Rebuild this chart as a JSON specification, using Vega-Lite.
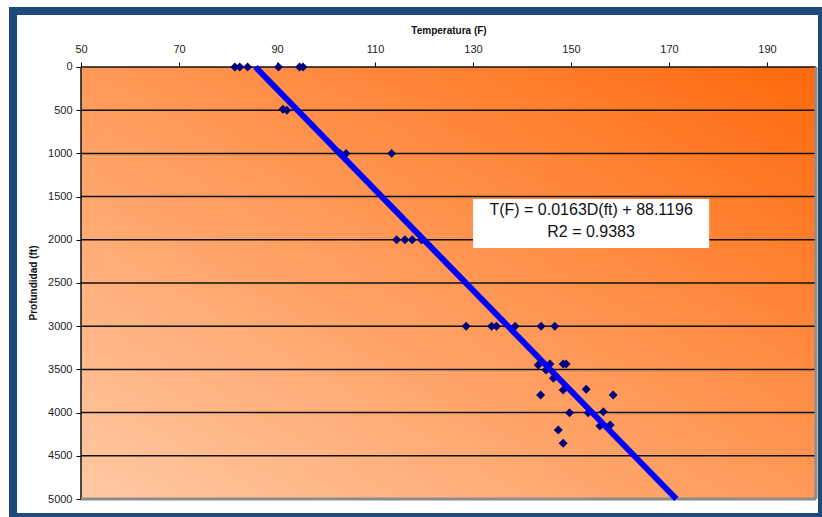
{
  "$schema": "https://vega.github.io/schema/vega-lite/v6.json",
  "width": 809,
  "height": 506,
  "autosize": {"type": "none"},
  "padding": {"left": 13, "top": 11, "right": 0, "bottom": 0},
  "background": "white",
  "config": {
    "view": {"fill": "white", "stroke": "#1F4A7C", "strokeWidth": 8},
    "font": "Liberation Sans",
    "axis": {"grid": false, "domain": false, "labelFlush": false, "labelOverlap": false, "tickColor": "#000", "tickWidth": 1, "tickSize": 5, "labelFont": "Liberation Sans", "labelFontSize": 11, "labelColor": "#222", "titleFont": "Liberation Sans", "titleFontSize": 10, "titleFontWeight": "bold", "titleColor": "#111"}
  },
  "datasets": {
    "pts": [
      {"T": 81.4, "D": 0}, {"T": 82.4, "D": 0}, {"T": 84.0, "D": 0}, {"T": 90.3, "D": 0}, {"T": 94.6, "D": 0}, {"T": 95.3, "D": 0},
      {"T": 91.2, "D": 490}, {"T": 92.0, "D": 500},
      {"T": 102.9, "D": 1000}, {"T": 104.1, "D": 1000}, {"T": 113.4, "D": 1000},
      {"T": 114.4, "D": 2000}, {"T": 116.1, "D": 2000}, {"T": 117.6, "D": 2000}, {"T": 119.5, "D": 2000},
      {"T": 128.6, "D": 3000}, {"T": 133.8, "D": 3000}, {"T": 134.8, "D": 3000}, {"T": 138.6, "D": 3000}, {"T": 143.9, "D": 3000}, {"T": 146.7, "D": 3000},
      {"T": 143.3, "D": 3449}, {"T": 144.9, "D": 3507}, {"T": 145.7, "D": 3437}, {"T": 146.4, "D": 3603}, {"T": 148.4, "D": 3437}, {"T": 149.0, "D": 3437},
      {"T": 143.8, "D": 3796}, {"T": 148.4, "D": 3738}, {"T": 153.1, "D": 3730}, {"T": 158.6, "D": 3796},
      {"T": 149.7, "D": 4001}, {"T": 153.5, "D": 4001}, {"T": 156.6, "D": 3990}, {"T": 155.9, "D": 4155}, {"T": 158.0, "D": 4144},
      {"T": 147.4, "D": 4201}, {"T": 148.4, "D": 4355}
    ],
    "fit": [{"T": 85.6, "D": 0}, {"T": 171.5, "D": 5000}],
    "grid": [{"D": 0}, {"D": 500}, {"D": 1000}, {"D": 1500}, {"D": 2000}, {"D": 2500}, {"D": 3000}, {"D": 3500}, {"D": 4000}, {"D": 4500}],
    "one": [{"k": 1}]
  },
  "layer": [
    {
      "data": {"name": "one"},
      "mark": {"type": "rect", "fill": {"gradient": "linear", "x1": 0, "y1": 1, "x2": 1, "y2": 0, "stops": [{"offset": 0, "color": "#FFC9A4"}, {"offset": 1, "color": "#FF690C"}]}},
      "encoding": {
        "x": {"datum": 50, "type": "quantitative", "scale": {"domain": [36.122, 201.224], "nice": false, "zero": false}},
        "x2": {"datum": 200},
        "y": {"datum": 0, "type": "quantitative", "scale": {"domain": [-648.1, 5208.3], "nice": false, "zero": false, "reverse": true}},
        "y2": {"datum": 5000}
      }
    },
    {
      "data": {"name": "grid"},
      "mark": {"type": "rule", "color": "#111", "strokeWidth": 1.5},
      "encoding": {
        "x": {"datum": 50, "type": "quantitative", "scale": {"domain": [36.122, 201.224], "nice": false, "zero": false}},
        "x2": {"datum": 200},
        "y": {"field": "D", "type": "quantitative", "scale": {"domain": [-648.1, 5208.3], "nice": false, "zero": false, "reverse": true}}
      }
    },
    {
      "data": {"name": "one"},
      "mark": {"type": "rule", "color": "#111", "strokeWidth": 1.5},
      "encoding": {
        "x": {"datum": 50, "type": "quantitative", "scale": {"domain": [36.122, 201.224], "nice": false, "zero": false}},
        "y": {"datum": 0, "type": "quantitative", "scale": {"domain": [-648.1, 5208.3], "nice": false, "zero": false, "reverse": true}},
        "y2": {"datum": 5000}
      }
    },
    {
      "data": {"name": "one"},
      "mark": {"type": "rule", "color": "#8c8c8c", "strokeWidth": 3},
      "encoding": {
        "x": {"datum": 200, "type": "quantitative", "scale": {"domain": [36.122, 201.224], "nice": false, "zero": false}},
        "y": {"datum": 0, "type": "quantitative", "scale": {"domain": [-648.1, 5208.3], "nice": false, "zero": false, "reverse": true}},
        "y2": {"datum": 5000}
      }
    },
    {
      "data": {"name": "one"},
      "mark": {"type": "rule", "color": "#8c8c8c", "strokeWidth": 3},
      "encoding": {
        "x": {"datum": 50, "type": "quantitative", "scale": {"domain": [36.122, 201.224], "nice": false, "zero": false}},
        "x2": {"datum": 200},
        "y": {"datum": 5000, "type": "quantitative", "scale": {"domain": [-648.1, 5208.3], "nice": false, "zero": false, "reverse": true}}
      }
    },
    {
      "data": {"name": "pts"},
      "mark": {"type": "point", "shape": "diamond", "filled": true, "size": 80, "color": "#00007A", "opacity": 1},
      "encoding": {
        "x": {"field": "T", "type": "quantitative", "scale": {"domain": [36.122, 201.224], "nice": false, "zero": false},
          "axis": {"orient": "top", "offset": -56, "values": [50, 70, 90, 110, 130, 150, 170, 190], "title": "Temperatura (F)", "titleX": 435.5, "labelPadding": 8, "titlePadding": 8}},
        "y": {"field": "D", "type": "quantitative", "scale": {"domain": [-648.1, 5208.3], "nice": false, "zero": false, "reverse": true},
          "axis": {"orient": "left", "offset": -68, "format": "d", "values": [0, 500, 1000, 1500, 2000, 2500, 3000, 3500, 4000, 4500, 5000], "title": "Profundidad (ft)", "titleY": 271.5, "labelPadding": 4, "titlePadding": 9}}
      }
    },
    {
      "data": {"name": "fit"},
      "mark": {"type": "line", "color": "#0000FF", "strokeWidth": 6},
      "encoding": {
        "x": {"field": "T", "type": "quantitative", "scale": {"domain": [36.122, 201.224], "nice": false, "zero": false}},
        "y": {"field": "D", "type": "quantitative", "scale": {"domain": [-648.1, 5208.3], "nice": false, "zero": false, "reverse": true}}
      }
    },
    {
      "data": {"name": "one"},
      "mark": {"type": "rect", "color": "white", "opacity": 1},
      "encoding": {
        "x": {"datum": 130.0, "type": "quantitative", "scale": {"domain": [36.122, 201.224], "nice": false, "zero": false}},
        "x2": {"datum": 178.2},
        "y": {"datum": 1528, "type": "quantitative", "scale": {"domain": [-648.1, 5208.3], "nice": false, "zero": false, "reverse": true}},
        "y2": {"datum": 2095}
      }
    },
    {
      "data": {"name": "one"},
      "mark": {"type": "text", "text": "T(F) = 0.0163D(ft) + 88.1196", "font": "Liberation Sans", "fontSize": 16, "color": "#111", "align": "center", "baseline": "middle"},
      "encoding": {
        "x": {"datum": 154.1, "type": "quantitative", "scale": {"domain": [36.122, 201.224], "nice": false, "zero": false}},
        "y": {"datum": 1660, "type": "quantitative", "scale": {"domain": [-648.1, 5208.3], "nice": false, "zero": false, "reverse": true}}
      }
    },
    {
      "data": {"name": "one"},
      "mark": {"type": "text", "text": "R2 = 0.9383", "font": "Liberation Sans", "fontSize": 16, "color": "#111", "align": "center", "baseline": "middle"},
      "encoding": {
        "x": {"datum": 154.1, "type": "quantitative", "scale": {"domain": [36.122, 201.224], "nice": false, "zero": false}},
        "y": {"datum": 1912, "type": "quantitative", "scale": {"domain": [-648.1, 5208.3], "nice": false, "zero": false, "reverse": true}}
      }
    }
  ]
}
